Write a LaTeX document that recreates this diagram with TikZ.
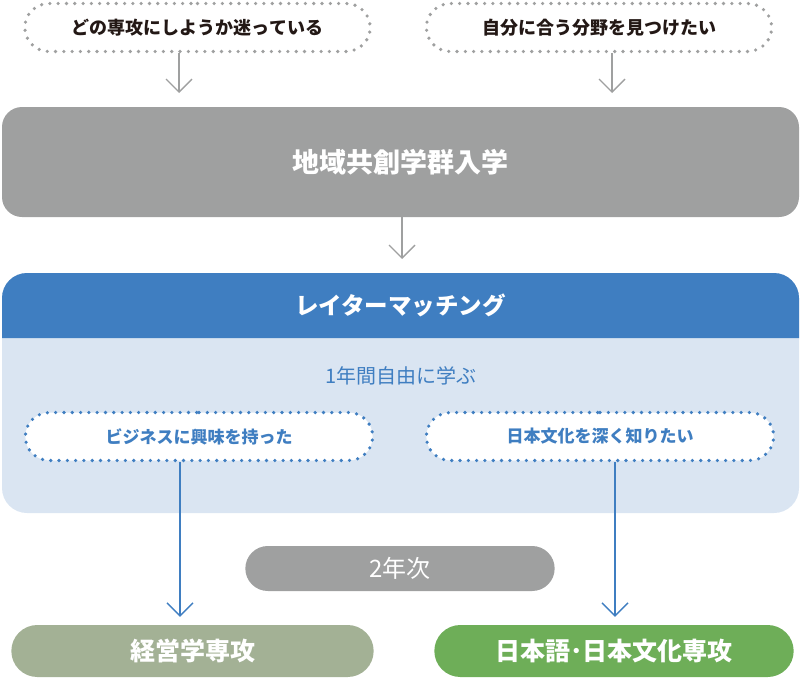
\documentclass[tikz,border=0pt]{standalone}
\usepackage{fontspec}
\setmainfont{Noto Sans CJK JP}
\usetikzlibrary{shapes.misc, arrows.meta}

\definecolor{boxGray}{HTML}{9FA0A0}
\definecolor{matchBlue}{HTML}{3F7EC1}
\definecolor{matchLight}{HTML}{DAE5F2}
\definecolor{bizGreen}{HTML}{A3B195}
\definecolor{cultGreen}{HTML}{6EAE58}
\definecolor{textDark}{HTML}{231815}

\begin{document}
\begin{tikzpicture} [x = 1pt, y = -1pt,
	dots/.style = {line width = 3.6pt, dash pattern = on 0pt off 8.3pt, line cap = round},
	wish/.style = {rounded rectangle, dots, draw = boxGray, minimum width = 352pt, minimum height = 48pt,
		text = textDark, font = \fontsize{18}{18}\selectfont\bfseries},
	blueWish/.style = {rounded rectangle, dots, draw = matchBlue, fill = white, minimum width = 354pt,
		minimum height = 48pt, text = matchBlue, font = \fontsize{17}{17}\selectfont\bfseries},
	pill/.style = {rounded rectangle, text = white, minimum height = 52pt, font = \fontsize{25}{25}\selectfont\bfseries},
	grayArrow/.style = {draw = boxGray, line width = 1.4pt, -{Straight Barb[length = 13pt, width = 26pt]}},
	blueArrow/.style = {draw = matchBlue, line width = 1.4pt, -{Straight Barb[length = 13pt, width = 26pt]}}]

	\useasboundingbox (0, 0) rectangle (800, 680);

% Define coordinates.

	%arrow columns
	\coordinate (colL) at (179, 0);
	\coordinate (colM) at (402, 0);
	\coordinate (colR) at (612, 0);
	\coordinate (colBR) at (615, 0);
	\coordinate (colBL) at (180, 0);

	%panel top
	\coordinate (panelTop) at (402, 273);

% Colour in.

	\fill [boxGray, rounded corners = 20pt] (2, 107) rectangle (799, 217);

	\fill [matchLight, rounded corners = 25pt] (2, 273) rectangle (799, 513);
	\fill [matchBlue] (2, 338) [rounded corners = 25pt] -- (2, 273) -- (799, 273) [sharp corners] -- (799, 338) -- cycle;

% Draw nodes.

	%wishes
	\node [wish] (wantL) at (197.5, 27.5) {どの専攻にしようか迷っている};
	\node [wish] (wantR) at (599, 27.5) {自分に合う分野を見つけたい};

	%entry
	\node [text = white, font = \fontsize{27}{27}\selectfont\bfseries] (entry) at (400.5, 162) {地域共創学群入学};
	\coordinate (entryTop) at (400.5, 107);
	\coordinate (entryBottom) at (400.5, 217);

	%matching
	\node [text = matchBlue, font = \fontsize{23.5}{23.5}\selectfont\bfseries, text = white] (match) at (400.5, 305) {レイターマッチング};
	\node [text = matchBlue, font = \fontsize{20}{20}\selectfont] (free) at (401, 376) {1年間自由に学ぶ};

	\node [blueWish] (bizWish) at (199, 436.5) {ビジネスに興味を持った};
	\node [blueWish] (cultWish) at (600, 436.5) {日本文化を深く知りたい};

	%second year
	\node [pill, fill = boxGray, minimum width = 316pt, minimum height = 45pt,
		font = \fontsize{24}{24}\selectfont] (year) at (400, 568.5) {2年次};

	%majors
	\node [pill, fill = bizGreen, minimum width = 369pt] (biz) at (192.5, 651) {経営学専攻};
	\node [pill, fill = cultGreen, minimum width = 366pt] (cult) at (614, 651) {日本語･日本文化専攻};

% Draw arrows.

	\draw [grayArrow, shorten >= 14pt] (wantL.south -| colL) -- (entryTop -| colL);
	\draw [grayArrow, shorten >= 14pt] (wantR.south -| colR) -- (entryTop -| colR);
	\draw [grayArrow, shorten >= 14pt] (entryBottom -| colM) -- (panelTop);

	\draw [blueArrow, shorten >= 8pt] (bizWish.south -| colBL) -- (biz.north -| colBL);
	\draw [blueArrow, shorten >= 8pt] (cultWish.south -| colBR) -- (cult.north -| colBR);

\end{tikzpicture}
\end{document}
